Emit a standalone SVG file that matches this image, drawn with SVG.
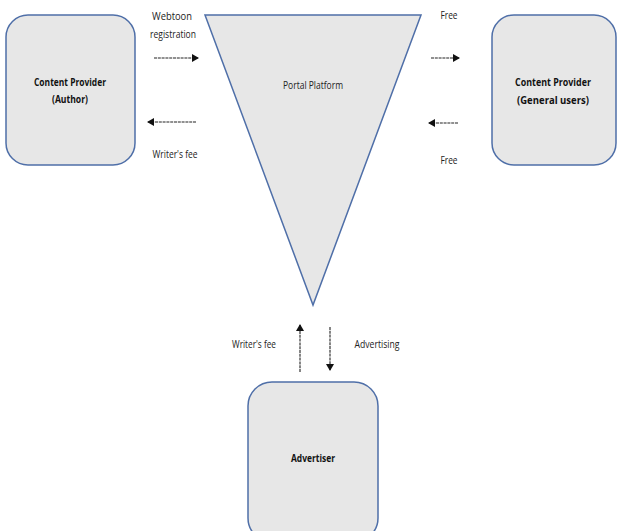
<svg xmlns="http://www.w3.org/2000/svg" width="617" height="531" viewBox="0 0 617 531">
<style>
.box{fill:#e7e7e7;stroke:#4f6fa8;stroke-width:1.5}
.t{font-family:"Open Sans","Liberation Sans",sans-serif;font-size:11px;fill:#222;text-anchor:middle}
.b{font-weight:bold;fill:#111}
.c{stroke:#222;stroke-width:1.1;fill:none;stroke-dasharray:3 0.8}
</style>
<defs>
<marker id="ah" markerWidth="8" markerHeight="8" refX="6" refY="4" orient="auto" markerUnits="userSpaceOnUse">
<path d="M0,0 L7,4 L0,8 z" fill="#111"/>
</marker>
</defs>
<rect width="617" height="531" fill="#fff"/>
<g id="author">
<rect class="box" x="6" y="15" width="129" height="150" rx="22"/>
<text class="t b" x="70" y="86" textLength="72" lengthAdjust="spacingAndGlyphs">Content Provider</text>
<text class="t b" x="70" y="103" textLength="36" lengthAdjust="spacingAndGlyphs">(Author)</text>
</g>
<g id="portal">
<polygon class="box" points="205,15 421,15 313,305"/>
<text class="t" x="313" y="89" textLength="60" lengthAdjust="spacingAndGlyphs">Portal Platform</text>
</g>
<g id="users">
<rect class="box" x="492" y="15" width="124" height="150" rx="22"/>
<text class="t b" x="553" y="86" textLength="76" lengthAdjust="spacingAndGlyphs">Content Provider</text>
<text class="t b" x="553" y="104" textLength="72" lengthAdjust="spacingAndGlyphs">(General users)</text>
</g>
<g id="advertiser">
<rect class="box" x="248" y="382" width="130" height="160" rx="24"/>
<text class="t b" x="313" y="462" textLength="44" lengthAdjust="spacingAndGlyphs">Advertiser</text>
</g>
<g id="connectors">
<line class="c" x1="154" y1="58" x2="198" y2="58" marker-end="url(#ah)"/>
<line class="c" x1="196" y1="122" x2="148" y2="122" marker-end="url(#ah)"/>
<line class="c" x1="431" y1="58" x2="459" y2="58" marker-end="url(#ah)"/>
<line class="c" x1="458" y1="123" x2="429" y2="123" marker-end="url(#ah)"/>
<line class="c" x1="300" y1="372" x2="300" y2="325" marker-end="url(#ah)"/>
<line class="c" x1="330" y1="327" x2="330" y2="370" marker-end="url(#ah)"/>
<text class="t" x="172" y="20" textLength="40" lengthAdjust="spacingAndGlyphs">Webtoon</text>
<text class="t" x="173" y="38" textLength="46" lengthAdjust="spacingAndGlyphs">registration</text>
<text class="t" x="175" y="158" textLength="45" lengthAdjust="spacingAndGlyphs">Writer's fee</text>
<text class="t" x="449" y="19" textLength="17" lengthAdjust="spacingAndGlyphs">Free</text>
<text class="t" x="449" y="164" textLength="17" lengthAdjust="spacingAndGlyphs">Free</text>
<text class="t" x="254" y="348" textLength="44" lengthAdjust="spacingAndGlyphs">Writer's fee</text>
<text class="t" x="377" y="348" textLength="45" lengthAdjust="spacingAndGlyphs">Advertising</text>
</g>
</svg>
